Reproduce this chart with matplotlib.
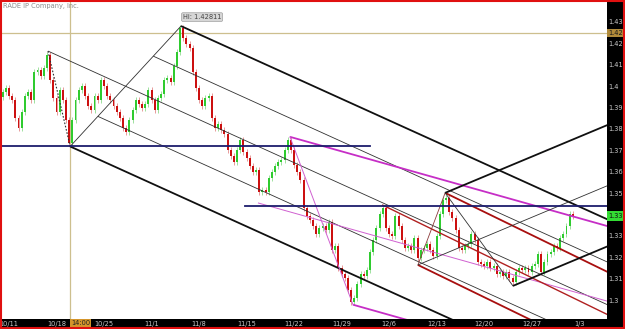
import numpy as np
import matplotlib.pyplot as plt
import matplotlib.transforms as mtransforms
from matplotlib.patches import Rectangle

# === price data: 8-hour bars, bar 0 starts Fri 10/8 evening ===
first_open = 1.3950
closes = [
    1.3973, 1.3992, 1.3954, 1.3936, 1.3851, 1.3805, 1.3879, 1.3954, 1.3973, 1.3936,
    1.4066, 1.4076, 1.4048, 1.4085, 1.4146, 1.4029, 1.3945, 1.3879, 1.3982, 1.3936,
    1.3842, 1.3735, 1.3842, 1.3936, 1.3982, 1.4001, 1.3954, 1.3907, 1.3889, 1.3954,
    1.3936, 1.4029, 1.4001, 1.3954, 1.3936, 1.3907, 1.3879, 1.3851, 1.3805, 1.3786,
    1.3842, 1.3889, 1.3936, 1.3917, 1.3898, 1.3917, 1.3982, 1.3936, 1.3889, 1.3945,
    1.3964, 1.4029, 1.4038, 1.4020, 1.4094, 1.4160, 1.4272, 1.4225, 1.4197, 1.4179,
    1.4066, 1.3992, 1.3936, 1.3907, 1.3945, 1.3954, 1.3851, 1.3805, 1.3823, 1.3795,
    1.3777, 1.3702, 1.3674, 1.3646, 1.3702, 1.3749, 1.3693, 1.3664, 1.3627, 1.3599,
    1.3608, 1.3506, 1.3515, 1.3506, 1.3571, 1.3599, 1.3627, 1.3646, 1.3655, 1.3702,
    1.3749, 1.3702, 1.3632, 1.3599, 1.3562, 1.3431, 1.3393, 1.3375, 1.3347, 1.3309,
    1.3337, 1.3347, 1.3328, 1.3365, 1.3235, 1.3253, 1.3150, 1.3122, 1.3104, 1.3048,
    1.2992, 1.3010, 1.3076, 1.3122, 1.3113, 1.3141, 1.3225, 1.3281, 1.3337, 1.3403,
    1.3431, 1.3337, 1.3309, 1.3300, 1.3393, 1.3347, 1.3281, 1.3244, 1.3253, 1.3235,
    1.3291, 1.3197, 1.3235, 1.3244, 1.3263, 1.3235, 1.3207, 1.3300, 1.3403, 1.3468,
    1.3478, 1.3412, 1.3384, 1.3328, 1.3244, 1.3235, 1.3253, 1.3263, 1.3309, 1.3281,
    1.3178, 1.3169, 1.3160, 1.3178, 1.3150, 1.3160, 1.3122, 1.3132, 1.3113, 1.3132,
    1.3104, 1.3085, 1.3132, 1.3150, 1.3141, 1.3150, 1.3132, 1.3160, 1.3169, 1.3216,
    1.3132, 1.3178, 1.3216, 1.3225, 1.3253, 1.3244, 1.3291, 1.3309, 1.3347, 1.3403,
    1.3393,
]

date_labels = ['10/11', '10/18', '10/25', '11/1', '11/8', '11/15', '11/22',
               '11/29', '12/6', '12/13', '12/20', '12/27', '1/3']
date_bars = [2, 17, 32, 47, 62, 77, 92, 107, 122, 137, 152, 167, 182]
# 1.34 sits under the last-price box, so it is not listed
price_ticks = [1.30, 1.31, 1.32, 1.33, 1.35, 1.36, 1.37,
               1.38, 1.39, 1.40, 1.41, 1.42, 1.43]

# pitchfork pivots (bar, price)
fork_big = [(14.3, 1.4164), (21.3, 1.3718), (56.3, 1.4281)]
fork_magenta = [(80.6, 1.3454), (90.7, 1.3763), (110.6, 1.2978)]
fork_red = [(119.8, 1.3445), (131.1, 1.3164), (139.7, 1.3501)]
fork_last = [(131.1, 1.3164), (139.7, 1.3501), (161.1, 1.3066)]

# horizontal levels
h_levels = [1.3720, 1.3440]
h_from = [-1, 76.5]
h_to = [116, 200]

cross_bar = 21.25
cross_price = 1.425
hi_text = 'Hi: 1.42811'
last_text = '1.335'

# === figure ===
fig = plt.figure(figsize=(6.25, 3.29), dpi=100, facecolor='black')
ax = fig.add_axes([2 / 625, 10 / 329, 605 / 625, 317 / 329])
ax.set_facecolor('white')
ax.set_xlim(-0.22, 190.8)
ax.set_ylim(1.29112, 1.43935)
for s in ax.spines.values():
    s.set_visible(False)

# crosshair
ax.axvline(cross_bar, color='#cdbf8e', lw=0.9, zorder=1)
ax.axhline(cross_price, color='#cdbf8e', lw=0.9, zorder=1)

# candles
wick = 0.0013
opens = [first_open] + closes[:-1]
for k, (o, c) in enumerate(zip(opens, closes)):
    up = c >= o
    body = '#2fcb2f' if up else '#cc1010'
    wc = '#8fdc8f' if up else '#e48a8a'
    lo, hi = min(o, c), max(o, c)
    ax.vlines(k, lo - wick, hi + wick, color=wc, lw=0.6, zorder=2)
    ax.add_patch(Rectangle((k - 0.3, lo), 0.6, max(hi - lo, 0.0003),
                           fc=body, ec='none', zorder=2.5))

# pitchforks
x_far = 200


def ray(p, d, **kw):
    t = (x_far - p[0]) / d[0]
    ax.plot([p[0], p[0] + t * d[0]], [p[1], p[1] + t * d[1]],
            solid_capstyle='butt', zorder=3, **kw)


def pitchfork(piv, tine, median, handle=None, halves=None):
    p1, p2, p3 = (np.array(q, float) for q in piv)
    mid = (p2 + p3) / 2
    d = mid - p1
    ray(p1, d, **median)
    ray(p2, d, **tine)
    ray(p3, d, **tine)
    if handle:
        ax.plot([p2[0], p3[0]], [p2[1], p3[1]], zorder=3, **handle)
    if halves:
        ray((mid + p2) / 2, d, **halves)
        ray((mid + p3) / 2, d, **halves)


thick_black = dict(color='#101010', lw=1.3)
thin_black = dict(color='#303030', lw=0.6)

pitchfork(fork_big, thick_black, thin_black, thin_black, thin_black)
ax.plot([fork_big[0][0], fork_big[1][0]], [fork_big[0][1], fork_big[1][1]],
        color='#303030', lw=0.8, ls=(0, (1.5, 1.5)), zorder=3)

pitchfork(fork_magenta, dict(color='#c62ec6', lw=1.3),
          dict(color='#d060d0', lw=0.7), dict(color='#d060d0', lw=0.7))
pitchfork(fork_red, dict(color='#a80f0f', lw=1.3),
          dict(color='#b02020', lw=1.0), dict(color='#8b3a3a', lw=0.6))
pitchfork(fork_last, thick_black, thin_black, thin_black)

for lvl, a, b in zip(h_levels, h_from, h_to):
    ax.plot([a, b], [lvl, lvl], color='#1c1c6c', lw=1.3, zorder=3)

# axes labels in black strips
ax.yaxis.tick_right()
ax.set_yticks(price_ticks)
ax.set_yticklabels(['%g' % v for v in price_ticks])
ax.set_xticks(date_bars)
ax.set_xticklabels(date_labels)
ax.tick_params(axis='both', length=0, labelsize=4.8, labelcolor='#c8c8c8')
ax.tick_params(axis='y', pad=1.2)
ax.tick_params(axis='x', pad=1.5)

# boxes
tr_x = mtransforms.blended_transform_factory(ax.transData, ax.transAxes)
tr_y = mtransforms.blended_transform_factory(ax.transAxes, ax.transData)
ax.text(cross_bar + 0.3, -0.004, '14:00', transform=tr_x, ha='left', va='top',
        fontsize=4.8, color='#222222', clip_on=False,
        bbox=dict(boxstyle='square,pad=0.15', fc='#d4952b', ec='none'))
ax.text(1.002, cross_price, '1.425', transform=tr_y, ha='left', va='center',
        fontsize=4.8, color='#1a1a1a', clip_on=False,
        bbox=dict(boxstyle='square,pad=0.15', fc='#b08a3a', ec='none'))
ax.text(1.002, closes[-1], last_text, transform=tr_y, ha='left', va='center',
        fontsize=4.8, color='#111111', clip_on=False,
        bbox=dict(boxstyle='square,pad=0.25', fc='#33dd33', ec='none'))
ax.text(56.9, 1.4323, hi_text, ha='left', va='center', fontsize=4.8,
        color='#444444', zorder=5,
        bbox=dict(boxstyle='round,pad=0.2', fc='#d6d6d6', ec='#a0a0a0', lw=0.5))

fig.text(3 / 625, 1 - 6 / 329, 'RADE IP Company, Inc.', fontsize=4.8,
         color='#8a8a8a', ha='left', va='center')

# red frame
fig.patches.append(Rectangle((0.001, 0.002), 0.998, 0.996, transform=fig.transFigure,
                             fill=False, ec='#e01010', lw=1.5))

fig.savefig('out.png', dpi=100, facecolor='black')
